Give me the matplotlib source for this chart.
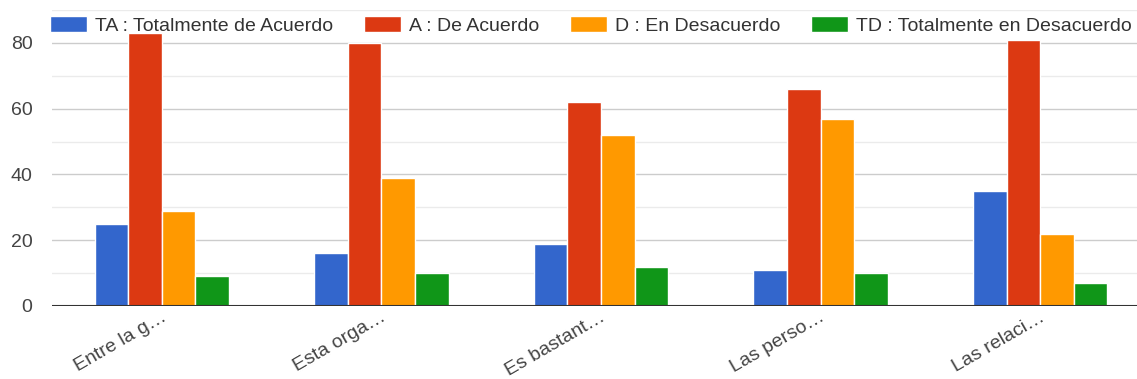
import numpy as np
import matplotlib.pyplot as plt
from matplotlib.ticker import MultipleLocator

categories = ["Entre la g…", "Esta orga…", "Es bastant…", "Las perso…", "Las relaci…"]
series_names = ["TA : Totalmente de Acuerdo", "A : De Acuerdo",
                "D : En Desacuerdo", "TD : Totalmente en Desacuerdo"]
ta = [25, 16, 19, 11, 35]
a = [83, 80, 62, 66, 81]
d = [29, 39, 52, 57, 22]
td = [9, 10, 12, 10, 7]
colors = ["#3366cc", "#dc3912", "#ff9900", "#109618"]

plt.rcParams['font.family'] = ['Liberation Sans', 'DejaVu Sans']

fig = plt.figure(figsize=(11.37, 3.79), dpi=100)
ax = fig.add_axes([52 / 1137, 73 / 379, (1150 - 52) / 1137, 296 / 379])

x = np.arange(len(categories))
w = 0.153
for i, (vals, name) in enumerate(zip([ta, a, d, td], series_names)):
    ax.bar(x + (i - 1.5) * w, vals, w, color=colors[i], edgecolor='white',
           linewidth=1, label=name, zorder=3)

ax.set_xlim(-0.5, 4.5)
ax.set_ylim(0, 90)
ax.yaxis.set_major_locator(MultipleLocator(20))
ax.yaxis.set_minor_locator(MultipleLocator(10))
ax.grid(axis='y', which='major', color='#cccccc', linewidth=1, zorder=0)
ax.grid(axis='y', which='minor', color='#ebebeb', linewidth=1, zorder=0)
ax.axhline(0, color='#333333', linewidth=1.5, zorder=4)
for s in ax.spines.values():
    s.set_visible(False)
ax.tick_params(axis='both', which='both', length=0, colors='#444444', labelsize=14)
ax.tick_params(axis='y', pad=14)
ax.tick_params(axis='x', pad=2)
ax.set_xticks(x - 0.005)
ax.set_xticklabels(categories, rotation=30, ha='right', rotation_mode='anchor')

leg = fig.legend(loc='upper left', bbox_to_anchor=(50 / 1137, 1 - 16 / 379), ncol=4,
                 frameon=False, fontsize=14, handlelength=1.9, handleheight=0.9,
                 columnspacing=1.6, handletextpad=0.4, borderaxespad=0,
                 borderpad=0)
for t in leg.get_texts():
    t.set_color('#333333')

fig.savefig('out.png', dpi=100)
